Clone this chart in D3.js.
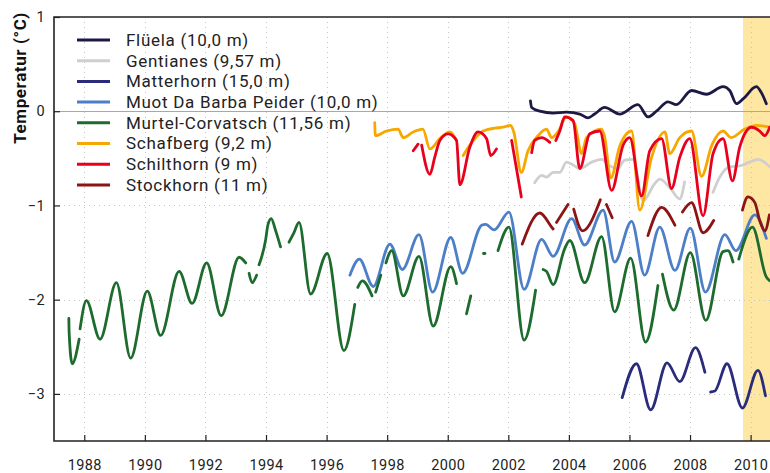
<!DOCTYPE html>
<html>
<head>
<meta charset="utf-8">
<script src="https://cdn.jsdelivr.net/npm/d3@7"></script>
<style>
  html, body { margin: 0; padding: 0; background: #fff; }
  svg { display: block; font-family: Roboto, "DejaVu Sans", sans-serif; }
</style>
</head>
<body>
<div id="chart"></div>
<script>
// Permafrost borehole temperatures, one pair of arrays per station (null = gap)
const stations = ["Flüela (10,0 m)", "Gentianes (9,57 m)", "Matterhorn (15,0 m)",
  "Muot Da Barba Peider (10,0 m)", "Murtel-Corvatsch (11,56 m)", "Schafberg (9,2 m)",
  "Schilthorn (9 m)", "Stockhorn (11 m)"]
const stationColors = ["#1c1a45", "#cfcfcf", "#2b2b7c", "#4d7fc9", "#1d6b2d", "#f7a800", "#e8001d", "#8c1414"]

const xTicks = [1988, 1990, 1992, 1994, 1996, 1998, 2000, 2002, 2004, 2006, 2008, 2010]
const yTicks = [1, 0, -1, -2, -3]
const highlightStart = 2009.75

const flueelaYear = [2002.73, 2002.77, 2003.04, 2003.48, 2003.92, 2004.36, 2004.63, 2004.85, 2005.18, 2005.68, 2006.28, 2006.61, 2006.89, 2007.27, 2007.55, 2008.05, 2008.54, 2009.09, 2009.31, 2009.53, 2009.75, 2010.19, 2010.35, 2010.52]
const flueelaTemp = [0.11, 0.04, 0.00, -0.02, -0.01, -0.03, -0.07, -0.03, 0.04, -0.03, 0.07, -0.06, 0.00, 0.10, 0.07, 0.22, 0.18, 0.26, 0.22, 0.08, 0.13, 0.26, 0.20, 0.08]

const gentianesYear = [2002.87, 2003.10, 2003.26, 2003.48, 2003.70, 2003.92, 2004.14, 2004.36, 2004.75, 2005.08, 2005.35, 2005.61, 2005.84, 2006.12, 2006.45, 2006.83, 2007.00, 2007.33, 2007.66, 2007.82, null, 2008.76, 2008.98, 2009.31, 2009.64, 2009.97, 2010.24, 2010.63]
const gentianesTemp = [-0.76, -0.68, -0.70, -0.65, -0.65, -0.54, -0.57, -0.61, -0.54, -0.51, -0.58, -0.61, -0.52, -0.51, -0.95, -0.77, -0.72, -0.81, -0.93, -0.75, null, -0.86, -0.70, -0.59, -0.58, -0.54, -0.51, -0.59]

const matterhornYear = [2005.76, 2006.23, 2006.70, 2007.24, 2007.66, 2008.18, 2008.49, null, 2008.68, 2008.82, 2009.22, 2009.73, 2010.24, 2010.49]
const matterhornTemp = [-3.04, -2.68, -3.17, -2.67, -2.87, -2.51, -2.77, null, -2.98, -2.97, -2.68, -3.15, -2.75, -3.02]

const muotYear = [1996.77, 1997.08, 1997.54, 1998.09, 1998.50, 1999.05, 1999.50, 2000.10, 2000.49, 2001.12, 2001.25, 2001.53, 2002.02, 2002.52, 2003.10, 2003.48, 2004.09, 2004.52, 2005.13, 2005.51, 2006.07, 2006.50, 2007.00, 2007.50, 2008.01, 2008.51, 2009.15, 2009.51, 2010.14, 2010.52]
const muotTemp = [-1.74, -1.57, -1.86, -1.41, -1.68, -1.31, -1.92, -1.34, -1.72, -1.21, -1.20, -1.26, -1.07, -1.89, -1.36, -1.54, -1.14, -1.42, -1.05, -1.60, -1.17, -1.74, -1.23, -1.69, -1.24, -1.92, -1.31, -1.48, -1.10, -1.35]

const murtelYear = [1987.49, 1987.50, 1987.60, 1987.83, null,
  1987.86, 1988.07, 1988.52, 1989.06, 1989.53, 1990.08, 1990.52, 1991.13, 1991.56, 1992.04, 1992.52, 1993.11, 1993.33, null,
  1993.44, 1993.54, 1993.69, null,
  1993.77, 1993.99, 1994.06, 1994.17, 1994.32, 1994.48, null,
  1994.76, 1994.92, 1995.09, 1995.47, 1996.02, 1996.57, 1996.93, null,
  1997.03, 1997.18, 1997.50, null,
  1997.62, 1997.79, null,
  1997.96, 1998.15, 1998.53, 1999.05, 1999.52, 2000.10, 2000.29, null,
  2000.62, 2000.76, null,
  2001.18, 2001.23, null,
  2001.66, 2002.02, 2002.52, 2002.90, null,
  2003.15, 2003.26, 2003.48, 2003.86, 2004.03, 2004.52, 2005.08, 2005.51, 2006.04, 2006.53, 2006.94, null,
  2007.09, 2007.46, 2008.01, 2008.52, 2009.09, 2009.25, 2009.42, null,
  2009.61, 2010.06, 2010.52, 2010.63]
const murtelTemp = [-2.20, -2.35, -2.68, -2.42, null,
  -2.31, -2.01, -2.42, -1.82, -2.62, -1.91, -2.38, -1.70, -2.04, -1.61, -2.17, -1.55, -1.61, null,
  -1.72, -1.82, -1.74, null,
  -1.63, -1.36, -1.21, -1.14, -1.27, -1.44, null,
  -1.39, -1.29, -1.18, -1.94, -1.51, -2.54, -2.05, null,
  -1.87, -1.80, -1.96, null,
  -1.92, -1.74, null,
  -1.61, -1.48, -1.96, -1.54, -2.28, -1.65, -1.83, null,
  -2.15, -1.96, null,
  -1.51, -1.51, null,
  -1.48, -1.23, -2.43, -1.90, null,
  -1.68, -1.70, -1.84, -1.46, -1.37, -1.82, -1.33, -2.13, -1.56, -2.45, -1.85, null,
  -1.73, -2.11, -1.50, -2.22, -1.49, -1.48, -1.60, null,
  -1.57, -1.23, -1.76, -1.80]

const schafbergYear = [1997.59, 1997.61, 1997.98, 1998.36, 1998.53, 1998.86, 1999.18, 1999.41, 1999.74, 2000.07, 2000.29, null,
  2000.51, 2000.73, 2001.17, 2001.55, 2001.83, 2002.08, 2002.18, 2002.43, 2002.65, 2002.98, 2003.26, 2003.43, 2003.64, 2003.92, 2004.19, 2004.42, 2004.58, 2005.08, 2005.18, 2005.38, 2005.68, 2006.07, 2006.34, 2006.73, 2007.17, 2007.33, 2007.66, 2008.05, 2008.38, 2008.72, 2009.09, 2009.36, 2009.80, 2010.19, 2010.63]
const schafbergTemp = [-0.12, -0.26, -0.21, -0.19, -0.28, -0.22, -0.19, -0.40, -0.29, -0.22, -0.31, null,
  -0.47, -0.36, -0.21, -0.18, -0.17, -0.15, -0.22, -0.65, -0.42, -0.26, -0.19, -0.28, -0.22, -0.06, -0.13, -0.45, -0.28, -0.19, -0.27, -0.71, -0.37, -0.21, -1.05, -0.49, -0.22, -0.45, -0.28, -0.21, -0.69, -0.36, -0.21, -0.28, -0.19, -0.15, -0.17]

const schilthornYear = [1998.86, 1999.02, null,
  1999.14, 1999.41, 1999.57, 1999.74, 2000.01, 2000.29, 2000.40, 2000.73, 2001.00, 2001.28, 2001.42, 2001.61, null,
  2002.11, 2002.28, 2002.43, null,
  2002.77, 2002.87, 2003.10, 2003.37, null,
  2003.57, 2003.70, 2003.86, 2004.14, 2004.36, 2004.69, 2005.02, 2005.41, 2005.79, 2006.01, 2006.40, 2006.67, 2007.06, 2007.39, 2007.66, 2007.99, 2008.43, 2008.76, 2009.09, 2009.40, 2009.64, 2010.03, 2010.30, 2010.47, 2010.63]
const schilthornTemp = [-0.42, -0.35, null,
  -0.36, -0.67, -0.49, -0.31, -0.24, -0.31, -0.78, -0.38, -0.22, -0.29, -0.47, -0.40, null,
  -0.31, -0.63, -0.91, null,
  -0.44, -0.31, -0.28, -0.33, null,
  -0.31, -0.21, -0.06, -0.10, -0.61, -0.24, -0.21, -0.84, -0.36, -0.28, -0.90, -0.42, -0.29, -0.82, -0.49, -0.29, -1.11, -0.45, -0.29, -0.74, -0.38, -0.17, -0.21, -0.26, -0.17]

const stockhornYear = [2002.46, 2003.04, 2003.43, 2003.48, null, 2003.59, 2003.97, null, 2004.16, 2004.45, 2005.04, null, 2005.24, 2005.43, null,
  2006.61, 2007.06, 2007.50, null, 2007.75, 2008.05, 2008.43, 2008.78, null, 2009.73, 2009.91, 2010.14, 2010.30, 2010.47, 2010.62]
const stockhornTemp = [-1.41, -1.08, -1.23, -1.25, null, -1.18, -0.99, null, -1.04, -1.27, -0.94, null, -0.99, -1.13, null,
  -1.32, -1.02, -1.21, null, -1.07, -0.97, -1.29, -1.16, null, -1.05, -0.91, -0.97, -1.16, -1.27, -1.10]

const seriesYears = [flueelaYear, gentianesYear, matterhornYear, muotYear, murtelYear, schafbergYear, schilthornYear, stockhornYear]
const seriesTemps = [flueelaTemp, gentianesTemp, matterhornTemp, muotTemp, murtelTemp, schafbergTemp, schilthornTemp, stockhornTemp]

const width = 770
const height = 473
const margin = { top: 17, right: 0, bottom: 32, left: 54 }
const plotBottom = height - margin.bottom

const svg = d3.select("#chart")
  .append("svg")
  .attr("width", width)
  .attr("height", height)

const x = d3.scaleLinear()
  .domain([1987, 2010.64])
  .range([margin.left, width - margin.right])

const y = d3.scaleLinear()
  .domain([-3.5, 1])
  .range([plotBottom, margin.top])

svg.append("clipPath")
  .attr("id", "plot-clip")
  .append("rect")
  .attr("x", margin.left)
  .attr("y", margin.top)
  .attr("width", width - margin.left)
  .attr("height", plotBottom - margin.top)

// Highlighted period (yellow band)
svg.append("rect")
  .attr("x", x(highlightStart))
  .attr("y", margin.top)
  .attr("width", x.range()[1] - x(highlightStart))
  .attr("height", plotBottom - margin.top)
  .attr("fill", "#fee7a3")

// Dotted grid
const grid = svg.append("g")
  .attr("stroke", "#c4c4c4")
  .attr("stroke-width", 1)
  .attr("stroke-dasharray", "1,4")

grid.selectAll(".vgrid")
  .data(xTicks)
  .enter()
  .append("line")
  .attr("x1", d => Math.round(x(d)) + 0.5)
  .attr("x2", d => Math.round(x(d)) + 0.5)
  .attr("y1", margin.top)
  .attr("y2", plotBottom)

grid.selectAll(".hgrid")
  .data(yTicks.filter(d => d !== 0 && d !== 1))
  .enter()
  .append("line")
  .attr("x1", margin.left)
  .attr("x2", width)
  .attr("y1", d => Math.round(y(d)) + 0.5)
  .attr("y2", d => Math.round(y(d)) + 0.5)

// Zero line
svg.append("line")
  .attr("x1", margin.left)
  .attr("x2", width)
  .attr("y1", Math.round(y(0)) + 0.5)
  .attr("y2", Math.round(y(0)) + 0.5)
  .attr("stroke", "#a8a8a8")
  .attr("stroke-width", 1)

// Series
const line = d3.line()
  .defined(d => d.t !== null)
  .x(d => x(d.year))
  .y(d => y(d.t))
  .curve(d3.curveMonotoneX)

const lines = svg.append("g").attr("clip-path", "url(#plot-clip)")

seriesYears.forEach((years, i) => {
  const points = years.map((yr, j) => ({ year: yr, t: seriesTemps[i][j] }))
  lines.append("path")
    .datum(points)
    .attr("fill", "none")
    .attr("stroke", stationColors[i])
    .attr("stroke-width", 2.8)
    .attr("stroke-linejoin", "round")
    .attr("stroke-linecap", "round")
    .attr("d", line)
})

// Axes
const xAxis = d3.axisBottom(x)
  .tickValues(xTicks)
  .tickSize(-6)
  .tickPadding(19)
  .tickFormat(d3.format("d"))

const yAxis = d3.axisLeft(y)
  .tickValues(yTicks)
  .tickSize(-6)
  .tickPadding(9)
  .tickFormat(d3.format("d"))

const gx = svg.append("g")
  .attr("transform", `translate(0,${plotBottom})`)
  .call(xAxis)

const gy = svg.append("g")
  .attr("transform", `translate(${margin.left},0)`)
  .call(yAxis)

gx.select(".domain").remove()
gy.select(".domain").remove()

svg.selectAll(".tick line").attr("stroke", "#222").attr("stroke-width", 1.2)
svg.selectAll(".tick text")
  .style("font-family", "Roboto, sans-serif")
  .style("font-size", "14.5px")
  .style("letter-spacing", "0.4px")
  .attr("fill", "#222")

// Frame (top, left, bottom)
svg.append("path")
  .attr("d", `M${width},${margin.top}H${margin.left}V${plotBottom}H${width}`)
  .attr("fill", "none")
  .attr("stroke", "#222")
  .attr("stroke-width", 1.6)

// Axis title
svg.append("text")
  .attr("transform", `translate(26,78) rotate(-90)`)
  .attr("text-anchor", "middle")
  .style("font-size", "17px")
  .style("font-weight", "bold")
  .style("letter-spacing", "0.6px")
  .attr("fill", "#111")
  .text("Temperatur (°C)")

// Legend
const legend = svg.append("g")
  .selectAll("g")
  .data(stations)
  .enter()
  .append("g")
  .attr("transform", (d, i) => `translate(0,${40 + i * 20.7})`)

legend.append("line")
  .attr("x1", 77)
  .attr("x2", 110)
  .attr("stroke", (d, i) => stationColors[i])
  .attr("stroke-width", 3)

legend.append("text")
  .attr("x", 126)
  .attr("dy", "0.35em")
  .style("font-size", "17px")
  .style("letter-spacing", "0.7px")
  .attr("fill", "#222")
  .text(d => d)
</script>
</body>
</html>
